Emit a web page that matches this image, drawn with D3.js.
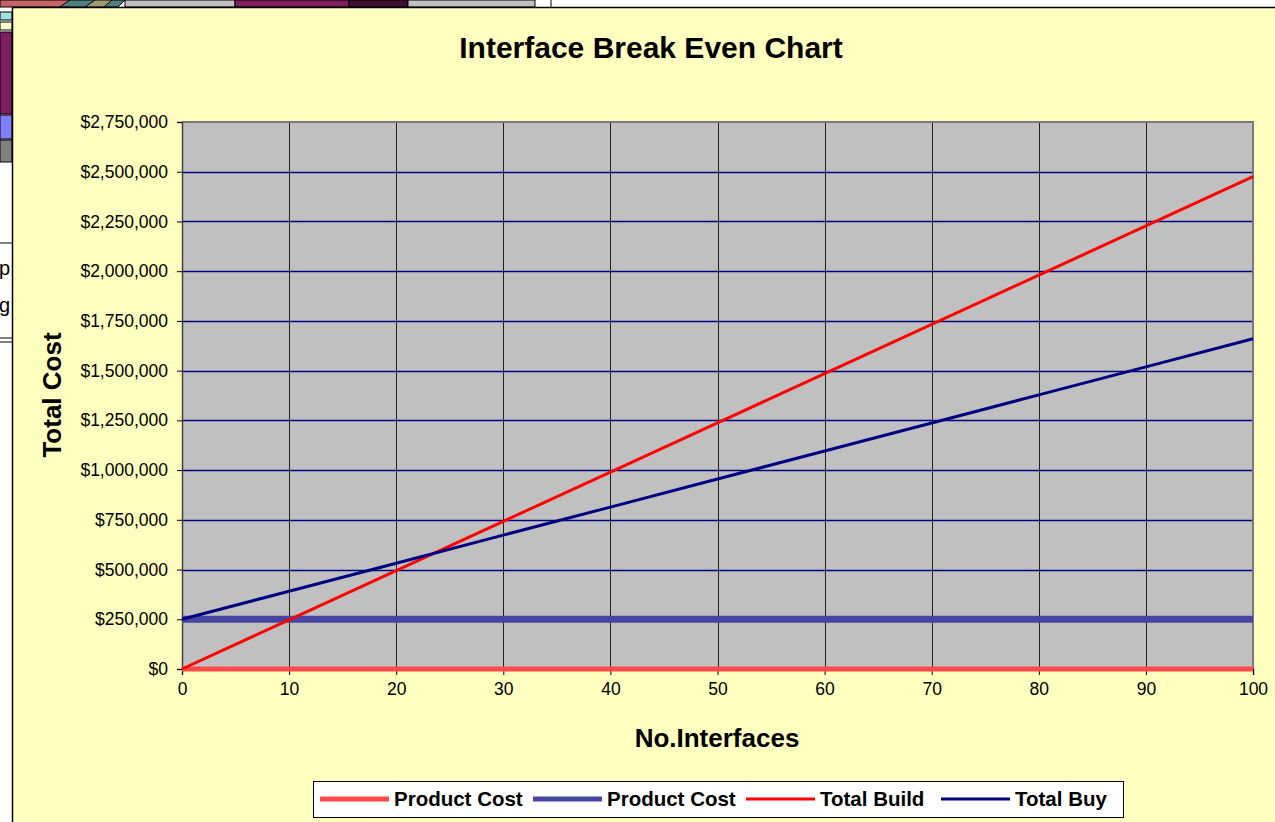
<!DOCTYPE html>
<html>
<head>
<meta charset="utf-8">
<script src="https://cdn.jsdelivr.net/npm/d3@7"></script>
<style>
  html, body { margin: 0; padding: 0; background: #fff; }
  svg { display: block; font-family: Arial, "Liberation Sans", sans-serif; }
</style>
</head>
<body>
<div id="chart"></div>
<script>
// ---- data ----
const interfaces = [0, 10, 20, 30, 40, 50, 60, 70, 80, 90, 100];
const productCostBuild = [0, 0, 0, 0, 0, 0, 0, 0, 0, 0, 0];
const productCostBuy = [250000, 250000, 250000, 250000, 250000, 250000, 250000, 250000, 250000, 250000, 250000];
const totalBuild = [0, 247500, 495000, 742500, 990000, 1237500, 1485000, 1732500, 1980000, 2227500, 2475000];
const totalBuy = [250000, 391000, 532000, 673000, 814000, 955000, 1096000, 1237000, 1378000, 1519000, 1660000];

const yTicks = [0, 250000, 500000, 750000, 1000000, 1250000, 1500000, 1750000, 2000000, 2250000, 2500000, 2750000];
const xTicks = [0, 10, 20, 30, 40, 50, 60, 70, 80, 90, 100];

const series = [
  { name: "Product Cost", values: productCostBuild, color: "#FF4A4A", width: 5 },
  { name: "Product Cost", values: productCostBuy, color: "#4646A0", width: 7 },
  { name: "Total Build", values: totalBuild, color: "#FF0000", width: 3 },
  { name: "Total Buy", values: totalBuy, color: "#000080", width: 3 }
];

const W = 1275, H = 822;
const svg = d3.select("#chart").append("svg").attr("width", W).attr("height", H);

// ---- spreadsheet fragments behind the chart ----
const bg = svg.append("g");
bg.append("rect").attr("x", 0).attr("y", 0).attr("width", W).attr("height", H).attr("fill", "#fff");
const cells = [
  [0, 0, 70, 7, "#C46464"], [125, 0, 110, 7, "#C0C0C0"], [235, 0, 114, 7, "#7F1F5F"],
  [349, 0, 59, 7, "#40102F"], [408, 0, 127, 7, "#C0C0C0"],
  [0, 12, 12, 8, "#A0E0E0"], [0, 22, 12, 8, "#FFFFCC"], [0, 32, 12, 82, "#7F1F5F"],
  [0, 115, 12, 24, "#8080FF"], [0, 140, 12, 22, "#808080"]
];
cells.forEach(c => bg.append("rect").attr("x", c[0]).attr("y", c[1]).attr("width", c[2]).attr("height", c[3])
  .attr("fill", c[4]).attr("stroke", "#000").attr("stroke-width", 1));
bg.append("path").attr("d", "M70,0 L125,0 L118,7 L60,7 Z").attr("fill", "#4F7F7F").attr("stroke", "#000");
bg.append("path").attr("d", "M95,0 L112,0 L104,7 L85,7 Z").attr("fill", "#9C9C70").attr("stroke", "#000");
bg.append("line").attr("x1", 551).attr("x2", 551).attr("y1", 0).attr("y2", 7).attr("stroke", "#000");
[243, 338, 342].forEach(y => bg.append("line").attr("x1", 0).attr("x2", 12).attr("y1", y).attr("y2", y).attr("stroke", "#000"));
bg.append("defs").append("clipPath").attr("id", "leftclip")
  .append("rect").attr("x", 0).attr("y", 0).attr("width", 12).attr("height", H);
const lt = bg.append("g").attr("clip-path", "url(#leftclip)").style("font-size", "20px");
lt.append("text").attr("x", -12).attr("y", 275).text("np");
lt.append("text").attr("x", -12).attr("y", 312).text("og");

// ---- chart area ----
svg.append("rect").attr("x", 12.5).attr("y", 7.5).attr("width", W).attr("height", H)
  .attr("fill", "#FFFFC0").attr("stroke", "#000").attr("stroke-width", 1.5);

const plot = { left: 182, right: 1253, top: 122, bottom: 669 };
const x = d3.scaleLinear().domain([0, 100]).range([plot.left, plot.right]);
const y = d3.scaleLinear().domain([0, 2750000]).range([plot.bottom, plot.top]);

svg.append("rect").attr("x", plot.left).attr("y", plot.top)
  .attr("width", plot.right - plot.left).attr("height", plot.bottom - plot.top)
  .attr("fill", "#C0C0C0");

// grid
svg.append("g").selectAll("line").data(yTicks.filter(d => d > 0 && d < 2750000)).join("line")
  .attr("x1", plot.left).attr("x2", plot.right)
  .attr("y1", d => Math.round(y(d)) + 0.5).attr("y2", d => Math.round(y(d)) + 0.5)
  .attr("stroke", "#000080").attr("stroke-width", 1.3);
svg.append("g").selectAll("line").data(xTicks.filter(d => d > 0 && d < 100)).join("line")
  .attr("x1", d => Math.round(x(d)) + 0.5).attr("x2", d => Math.round(x(d)) + 0.5)
  .attr("y1", plot.top).attr("y2", plot.bottom)
  .attr("stroke", "#202020").attr("stroke-width", 1);

// plot border (top/right gray)
svg.append("path")
  .attr("d", `M${plot.left},${plot.top} H${plot.right} V${plot.bottom}`)
  .attr("fill", "none").attr("stroke", "#7A7A7A").attr("stroke-width", 2);

// axes
const yAxis = svg.append("g").attr("transform", `translate(${plot.left},0)`)
  .call(d3.axisLeft(y).tickValues(yTicks).tickFormat(d3.format("$,.0f")).tickSize(5).tickPadding(9));
const xAxis = svg.append("g").attr("transform", `translate(0,${plot.bottom})`)
  .call(d3.axisBottom(x).tickValues(xTicks).tickSize(6).tickPadding(8));
[yAxis, xAxis].forEach(a => {
  a.select(".domain").attr("stroke", "#404040").attr("stroke-width", 1.5);
  a.selectAll(".tick line").attr("stroke", "#000");
  a.selectAll("text").attr("fill", "#000").style("font-size", "17.5px").style("font-family", "Arial, 'Liberation Sans', sans-serif");
});

// lines
const line = d3.line().x((d, i) => x(interfaces[i])).y(d => y(d));
svg.append("g").selectAll("path").data(series).join("path")
  .attr("d", s => line(s.values))
  .attr("fill", "none").attr("stroke", s => s.color).attr("stroke-width", s => s.width);

// titles
svg.append("text").attr("x", 651).attr("y", 58).attr("text-anchor", "middle")
  .style("font-size", "30px").style("font-weight", "bold").text("Interface Break Even Chart");
svg.append("text").attr("x", 717).attr("y", 747).attr("text-anchor", "middle")
  .style("font-size", "26px").style("font-weight", "bold").text("No.Interfaces");
svg.append("text").attr("transform", "translate(61,395) rotate(-90)").attr("text-anchor", "middle")
  .style("font-size", "26px").style("font-weight", "bold").text("Total Cost");

// legend
const legend = svg.append("g");
legend.append("rect").attr("x", 313.5).attr("y", 781.5).attr("width", 810).attr("height", 36)
  .attr("fill", "#fff").attr("stroke", "#000").attr("stroke-width", 1);
const legendX = [320, 533, 746, 941];
series.forEach((s, i) => {
  const g = legend.append("g").attr("transform", `translate(${legendX[i]},799)`);
  g.append("line").attr("x1", 0).attr("x2", 69).attr("y1", 0).attr("y2", 0)
    .attr("stroke", s.color).attr("stroke-width", Math.min(s.width, 5));
  g.append("text").attr("x", 74).attr("y", 7).style("font-size", "20.5px").style("font-weight", "bold").text(s.name);
});
</script>
</body>
</html>
